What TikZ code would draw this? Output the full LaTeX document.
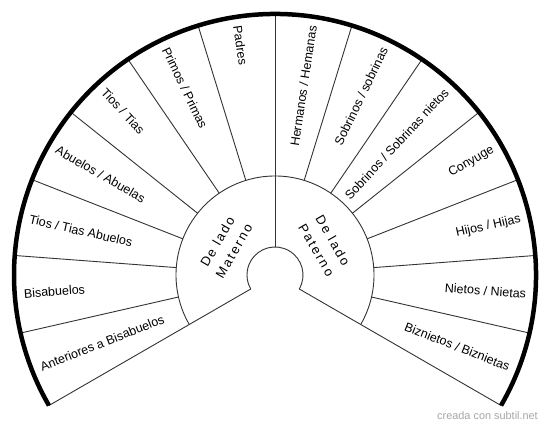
\documentclass[tikz,border=0pt]{standalone}
\usepackage{fontspec}
\setmainfont{Liberation Sans}
\newfontfamily\spacedfont[LetterSpace=16]{Liberation Sans}
\begin{document}
\begin{tikzpicture}[x=1pt,y=1pt,
  divider/.style={draw=black!80, line width=0.9pt},
  rim/.style={draw=black, line width=4.5pt},
  lbl/.style={inner sep=0pt, font=\fontsize{12.5}{14}\selectfont},
  sidelbl/.style={inner sep=0pt, font=\spacedfont\fontsize{13}{19}\selectfont, align=center},
  wmark/.style={inner sep=0pt, text=black!35, font=\fontsize{10.9}{12}\selectfont}
]
\useasboundingbox (0,0) rectangle (550,427);
\coordinate (C) at (275,152);
\def\Ri{28}
\def\Rm{99}
\def\Ro{261}
% arcs
\draw[divider] ([shift={(-30:\Rm)}]C) arc[start angle=-30, end angle=210, radius=\Rm];
\draw[divider] ([shift={(-30:\Ri)}]C) arc[start angle=-30, end angle=210, radius=\Ri];
% long dividers
\foreach \a in {90,210,-30} {
  \draw[divider] ([shift={(\a:\Ri)}]C) -- ([shift={(\a:\Ro)}]C);
}
% short dividers
\foreach \k in {-6,-5,-4,-3,-2,-1,1,2,3,4,5,6} {
  \pgfmathsetmacro\a{90+\k*120/7}
  \draw[divider] ([shift={(\a:\Rm)}]C) -- ([shift={(\a:\Ro)}]C);
}
% outer rim
\draw[rim] ([shift={(-30:\Ro)}]C) arc[start angle=-30, end angle=210, radius=\Ro];
% left labels
\foreach \t [count=\i] in {Padres, Primos / Primas, Tios / Tias, Abuelos / Abuelas, Tios / Tias Abuelos, Bisabuelos, Anteriores a Bisabuelos} {
  \pgfmathsetmacro\a{90+(\i-0.5)*120/7}
  \pgfmathsetmacro\r{\a-180}
  \node[lbl, anchor=west, rotate=\r] (L\i) at ([shift={(\a:252)}]C) {\t};
}
% right labels
\foreach \t [count=\i] in {Hermanos / Hemanas, Sobrinos / sobrinas, Sobrinos / Sobrinas nietos, Conyuge, Hijos / Hijas, Nietos / Nietas, Biznietos / Biznietas} {
  \pgfmathsetmacro\a{90-(\i-0.5)*120/7}
  \node[lbl, anchor=east, rotate=\a] (R\i) at ([shift={(\a:252)}]C) {\t};
}
% side labels
\node[sidelbl, rotate=60] (mat) at ([shift={(150:57)}]C) {De lado\\Materno};
\node[sidelbl, rotate=-60] (pat) at ([shift={(31:58)}]C) {De lado\\Paterno};
% watermark
\node[wmark, anchor=east] (wm) at (538,11) {creada con subtil.net};
\end{tikzpicture}
\end{document}
